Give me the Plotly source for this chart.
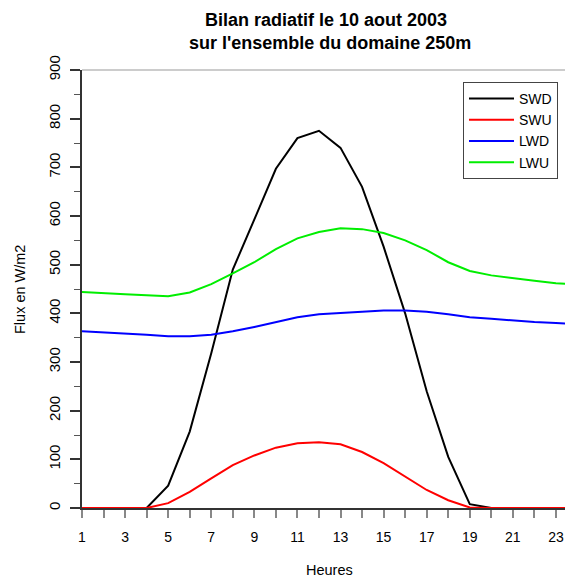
import plotly.graph_objects as go

hours = list(range(1, 25))
swd = [0, 0, 0, 0, 46, 157, 318, 490, 593, 697, 760, 775, 740, 660, 537, 400, 240, 105, 8, 0, 0, 0, 0, 0]
swu = [0, 0, 0, 0, 10, 33, 61, 88, 108, 124, 133, 135, 131, 115, 92, 64, 37, 16, 1, 0, 0, 0, 0, 0]
lwd = [363, 361, 359, 356, 353, 353, 356, 363, 372, 382, 392, 398, 401, 404, 406, 406, 403, 398, 392, 389, 385, 382, 380, 378]
lwu = [444, 441, 439, 437, 435, 443, 460, 482, 505, 532, 554, 567, 575, 573, 565, 550, 530, 505, 487, 478, 472, 467, 462, 459]

series = [("SWD", swd, "#000000"), ("SWU", swu, "#ff0000"),
          ("LWD", lwd, "#0000ff"), ("LWU", lwu, "#00ee00")]

x_tickvals = list(range(1, 25))
x_ticktext = [str(h) if h % 2 == 1 else "" for h in x_tickvals]
y_tickvals = list(range(0, 1000, 100))

FONT = "Liberation Sans, Arial, sans-serif"

W, H = 565, 578
ML, MR, MT, MB = 82, 0, 70, 70
PW = W - ML - MR
PH = H - MT - MB

fig = go.Figure()
for name, vals, col in series:
    fig.add_trace(go.Scatter(x=hours, y=vals, mode="lines", name=name,
                             line=dict(color=col, width=2)))

fig.update_layout(
    width=W, height=H,
    margin=dict(l=ML, r=MR, t=MT, b=MB, autoexpand=False),
    plot_bgcolor="white", paper_bgcolor="white",
    font=dict(family=FONT, size=12, color="#000"),
    showlegend=True,
    legend=dict(x=(463 - 82) / PW, y=1 - (82 - 70) / PH, xanchor="left", yanchor="top",
                bordercolor="#444", borderwidth=1, bgcolor="white",
                font=dict(size=14, family=FONT),
                itemwidth=45, tracegroupgap=0),
    annotations=[
        dict(text="<b>Bilan radiatif le 10 aout 2003</b>", x=(326 - 82) / PW, y=1 + 50 / PH,
             xref="paper", yref="paper", xanchor="center", yanchor="middle",
             showarrow=False, font=dict(size=18, family=FONT)),
        dict(text="<b>sur l'ensemble du domaine 250m</b>", x=(330 - 82) / PW, y=1 + 27 / PH,
             xref="paper", yref="paper", xanchor="center", yanchor="middle",
             showarrow=False, font=dict(size=18, family=FONT)),
        dict(text="Flux en W/m2", textangle=-90, x=-62 / PW, y=(508 - 289) / PH,
             xref="paper", yref="paper", xanchor="center", yanchor="middle",
             showarrow=False, font=dict(size=14.5, family=FONT)),
        dict(text="Heures", x=(329 - 82) / PW, y=-62 / PH, xref="paper", yref="paper",
             xanchor="center", yanchor="middle",
             showarrow=False, font=dict(size=14.5, family=FONT)),
    ],
    shapes=[dict(type="line", xref="paper", yref="paper", x0=0, x1=1, y0=1, y1=1,
                 line=dict(color="#999", width=1))],
)

fig.update_xaxes(range=[1, 23.42], tickmode="array", tickvals=x_tickvals,
                 ticktext=x_ticktext, ticks="outside", ticklen=8, tickcolor="#888",
                 tickwidth=2, showline=True, linecolor="#333", linewidth=2,
                 showgrid=False, zeroline=False, tickfont=dict(size=14),
                 ticklabelstandoff=7, automargin=False)
fig.update_yaxes(range=[0, 900], tickmode="array", tickvals=y_tickvals,
                 ticks="outside", ticklen=10, tickcolor="#333", tickwidth=2,
                 minor=dict(dtick=50, ticks="outside", ticklen=6, tickcolor="#555",
                            tickwidth=1, showgrid=False),
                 tickangle=-90, showline=True, linecolor="#333", linewidth=2,
                 showgrid=False, zeroline=False, tickfont=dict(size=15),
                 ticklabelstandoff=4, automargin=False)

fig.write_html(
    "out.html",
    config={"displayModeBar": False},
    post_script="document.body.style.margin='0';document.body.style.overflow='hidden';",
)
